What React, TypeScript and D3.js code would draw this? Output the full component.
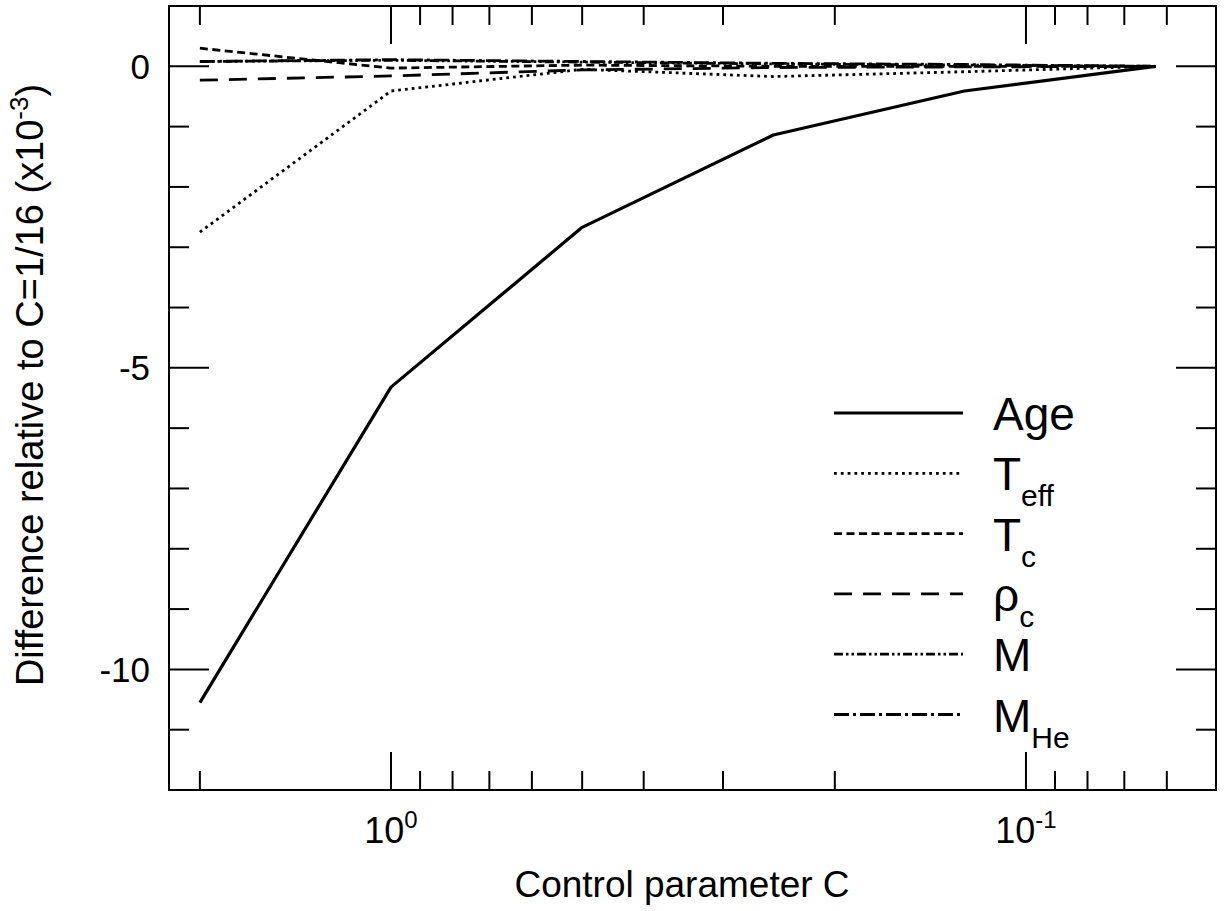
import React from 'react';
import * as d3 from 'd3';

// control parameter C values (x)
const cValues = [2, 1, 0.5, 0.25, 0.125, 0.0625];

// differences relative to C=1/16 (x10^-3)
const age = [-10.55, -5.32, -2.67, -1.14, -0.41, 0];
const teff = [-2.75, -0.41, -0.05, -0.17, -0.09, 0];
const tc = [0.3, -0.03, 0.02, 0.0, 0.0, 0];
const rhoc = [-0.23, -0.16, -0.06, -0.02, -0.01, 0];
const mass = [0.08, 0.1, 0.07, 0.04, 0.02, 0];
const massHe = [0.08, 0.11, 0.08, 0.05, 0.03, 0];

const seriesNames = ['Age', 'T', 'T', 'ρ', 'M', 'M'];
const seriesSubs = ['', 'eff', 'c', 'c', '', 'He'];

const yMajor = [0, -5, -10];
const xMajor = [1, 0.1];
const xMinor = [2, 0.9, 0.8, 0.7, 0.6, 0.5, 0.4, 0.3, 0.2, 0.09, 0.08, 0.07, 0.06];

const W = 1225, H = 911;
const margin = { top: 6, right: 9, bottom: 121, left: 169 };

export default function App() {
  const innerW = W - margin.left - margin.right;
  const innerH = H - margin.top - margin.bottom;

  const x = d3.scaleLog().domain([2.237, 0.0502]).range([0, innerW]);
  const y = d3.scaleLinear().domain([1, -12]).range([0, innerH]);

  const series = [
    { vals: age, dash: null, w: 3.2 },
    { vals: teff, dash: '2.8,4', w: 2.8 },
    { vals: tc, dash: '8,4.5', w: 2.8 },
    { vals: rhoc, dash: '18,11', w: 2.8 },
    { vals: mass, dash: '9,3,2.5,3,2.5,3', w: 2.8 },
    { vals: massHe, dash: '15,4,3,4', w: 2.8 },
  ];

  const line = d3.line<number>()
    .x((_, i) => x(cValues[i]))
    .y(d => y(d));

  const yMinor = d3.range(1, -13, -1).filter(v => !yMajor.includes(v));

  const font = '"Liberation Sans", Arial, Helvetica, sans-serif';
  const legendX = 834;
  const legendY0 = 413;
  const legendStep = 60.3;

  return (
    <svg width={W} height={H} style={{ position: 'absolute', left: 0, top: 0, background: '#fff' }}
      fontFamily={font}>
      <g transform={`translate(${margin.left},${margin.top})`}>
        {/* data lines */}
        {series.map((s, i) => (
          <path key={i} d={line(s.vals) || ''} fill="none" stroke="#000" strokeWidth={s.w}
            strokeDasharray={s.dash || undefined} strokeLinejoin="round" />
        ))}

        {/* y ticks */}
        {yMajor.map(v => (
          <g key={'ym' + v}>
            <line x1={0} x2={40} y1={y(v)} y2={y(v)} stroke="#000" strokeWidth={2} />
            <line x1={innerW - 40} x2={innerW} y1={y(v)} y2={y(v)} stroke="#000" strokeWidth={2} />
            <text x={-19} y={y(v)} dy="0.36em" textAnchor="end" fontSize={35}>{v === 0 ? '0' : String(v)}</text>
          </g>
        ))}
        {yMinor.map(v => (
          <g key={'yn' + v}>
            <line x1={0} x2={20} y1={y(v)} y2={y(v)} stroke="#000" strokeWidth={2} />
            <line x1={innerW - 20} x2={innerW} y1={y(v)} y2={y(v)} stroke="#000" strokeWidth={2} />
          </g>
        ))}

        {/* x ticks */}
        {xMajor.map(v => (
          <g key={'xm' + v}>
            <line x1={x(v)} x2={x(v)} y1={innerH} y2={innerH - 38} stroke="#000" strokeWidth={2} />
            <line x1={x(v)} x2={x(v)} y1={0} y2={38} stroke="#000" strokeWidth={2} />
            <text x={x(v)} y={innerH + 53} textAnchor="middle" fontSize={36}>
              10<tspan dy={-15} fontSize={24}>{Math.round(Math.log10(v))}</tspan>
            </text>
          </g>
        ))}
        {xMinor.map(v => (
          <g key={'xn' + v}>
            <line x1={x(v)} x2={x(v)} y1={innerH} y2={innerH - 19} stroke="#000" strokeWidth={2} />
            <line x1={x(v)} x2={x(v)} y1={0} y2={19} stroke="#000" strokeWidth={2} />
          </g>
        ))}

        {/* frame */}
        <rect x={0} y={0} width={innerW} height={innerH} fill="none" stroke="#000" strokeWidth={2} />
      </g>

      {/* legend */}
      {series.map((s, i) => {
        const ly = legendY0 + i * legendStep;
        return (
          <g key={'lg' + i}>
            <line x1={legendX} x2={legendX + 129} y1={ly} y2={ly} stroke="#000" strokeWidth={s.w}
              strokeDasharray={s.dash || undefined} />
            <text x={993} y={ly + 17} fontSize={46}>
              {seriesNames[i]}
              {seriesSubs[i] && <tspan dy={16} fontSize={30}>{seriesSubs[i]}</tspan>}
            </text>
          </g>
        );
      })}

      {/* axis titles */}
      <text x={682} y={897} textAnchor="middle" fontSize={37}>Control parameter C</text>
      <text transform={`translate(43,${385}) rotate(-90)`} textAnchor="middle" fontSize={38}>
        Difference relative to C=1/16 (x10<tspan dy={-15} fontSize={26}>-3</tspan><tspan dy={15}>)</tspan>
      </text>
    </svg>
  );
}
